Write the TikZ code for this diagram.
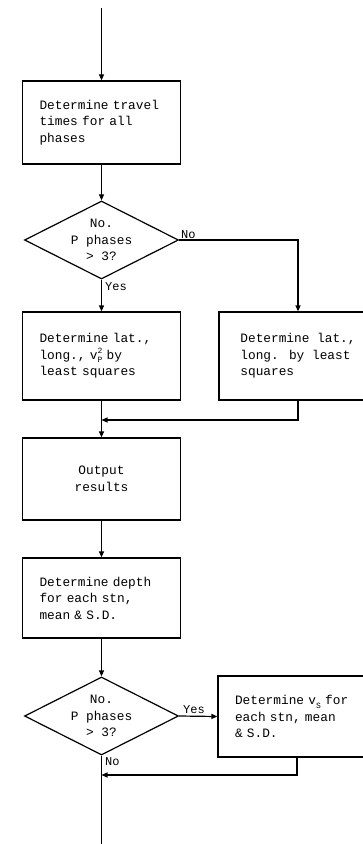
\documentclass[tikz,border=0pt]{standalone}
\usepackage{fontspec}
\newfontfamily\flowfont{Liberation Mono}
\usetikzlibrary{shapes.geometric,arrows.meta}
\newcommand\flowsup[1]{\raisebox{6.2pt}{\fontsize{8}{8}\selectfont #1}}
\newcommand\flowsub[1]{\raisebox{-3.6pt}{\fontsize{8}{8}\selectfont #1}}
\begin{document}
\begin{tikzpicture}[x=1pt,y=-1pt,
  every node/.style={font=\flowfont\fontsize{12.8}{16.5}\selectfont},
  proc/.style={draw, line width=1.2pt, rectangle, minimum width=158pt,
    text width=124pt, inner xsep=17pt, inner ysep=0pt, align=left},
  procc/.style={draw, line width=1.2pt, rectangle, minimum width=158pt,
    inner xsep=17pt, inner ysep=0pt, align=left},
  dec/.style={draw, diamond, aspect=2, inner sep=0pt, minimum width=154pt,
    minimum height=78pt, align=center, line width=1.2pt},
  flow/.style={line width=1.2pt, -{Triangle[length=6pt,width=5pt]}},
  plain/.style={line width=1.2pt},
  lab/.style={font=\flowfont\fontsize{12}{14}\selectfont, inner sep=1pt}]
\useasboundingbox (0,0) rectangle (363,844);
\clip (0,0) rectangle (363,844);

\coordinate (start) at (101.5,8);
\node[proc, minimum height=83pt] (b1) at (101.5,122.5)
  {Determine travel\\times for all\\phases};
\node[dec] (d1) at (101.5,240) {No.\\P phases\\> 3?};
\node[proc, minimum height=88pt] (b2) at (101.5,356)
  {Determine lat.,\\long., v\rlap{\flowsup{2}}\flowsub{P} by\\least squares};
\node[procc, minimum height=88pt] (r1) at (298,356)
  {Determine lat.,\\long. by least\\squares};
\coordinate (m1) at (101.5,420);
\node[procc, minimum height=82pt, align=center] (b3) at (101.5,479)
  {Output\\results};
\node[proc, minimum height=80pt] (b4) at (101.5,598)
  {Determine depth\\for each stn,\\mean \& S.D.};
\node[dec] (d2) at (101.5,716) {No.\\P phases\\> 3?};
\node[proc, minimum height=81pt] (r2) at (297,716.5)
  {Determine v\flowsub{S} for\\each stn, mean\\\& S.D.};
\coordinate (m2) at (101.5,775);
\coordinate (end) at (101.5,844);

\draw[flow] (start) -- (b1.north);
\draw[flow] (b1.south) -- (d1.north);
\draw[flow] (d1.east) -| (r1.north);
\draw[flow] (d1.south) -- (b2.north);
\draw[flow] (b2.south) -- (b3.north);
\draw[flow] (r1.south) |- (m1);
\draw[flow] (b3.south) -- (b4.north);
\draw[flow] (b4.south) -- (d2.north);
\draw[flow] (d2.east) -- (r2.west);
\draw[flow] (r2.south) |- (m2);
\draw[plain] (d2.south) -- (end);

\node[lab, anchor=south west] (l1) at (180,240) {No};
\node[lab, anchor=north west] (l2) at (104,281) {Yes};
\node[lab, anchor=south west] (l3) at (182,715) {Yes};
\node[lab, anchor=north west] (l4) at (104,756) {No};
\end{tikzpicture}
\end{document}
